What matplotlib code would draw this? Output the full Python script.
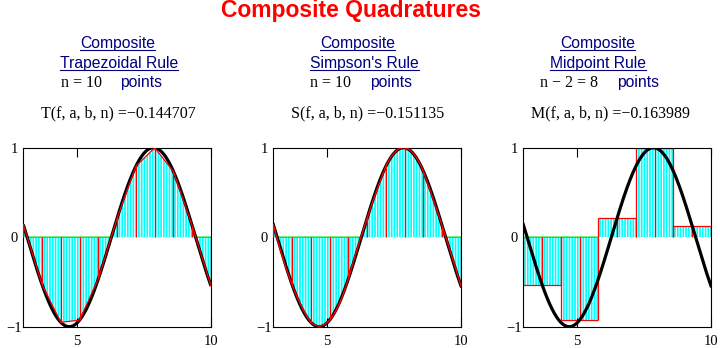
import numpy as np
import matplotlib
matplotlib.use('Agg')
import matplotlib.pyplot as plt
from matplotlib.lines import Line2D

# ---------------- data ----------------
a, b = 3.0, 10.0                      # integration limits
n_points = [10, 10, 8]                # n for trapezoid, Simpson, midpoint (n-2)
n_intervals_mid = 5                   # rectangles of the midpoint rule
rule_names = ["Trapezoidal Rule", "Simpson's Rule", "Midpoint Rule"]
point_labels = ["n = 10", "n = 10", "n \u2212 2 = 8"]
formula_names = ["T", "S", "M"]
formula_values = [-0.144707, -0.151135, -0.163989]
x_tick_values = [5, 10]
y_tick_values = [-1, 0, 1]
main_title = "Composite Quadratures"


def f(x):
    return np.sin(x)


# ---------------- style ----------------
W, H = 720, 348
NAVY = '#000080'
CYAN = '#00ffff'
RED = '#ff0000'
GREEN = '#00e000'
SANS = 'Liberation Sans'
SERIF = 'Liberation Serif'
plt.rcParams['hatch.color'] = 'white'
plt.rcParams['hatch.linewidth'] = 0.75
HATCH = '||||||'

fig = plt.figure(figsize=(W / 100, H / 100), dpi=100)
fig.patch.set_facecolor('white')

ax_left_px = [23.3, 273.3, 523.3]
ax_w_px, ax_top_px, ax_bot_px = 187.7, 147.7, 326.7

xs = np.linspace(a, b, 1401)
nodes = np.linspace(a, b, n_points[0] + 1)
fn = f(nodes)

axes = []
for i in range(3):
    ax = fig.add_axes([ax_left_px[i] / W, (H - ax_bot_px) / H,
                       ax_w_px / W, (ax_bot_px - ax_top_px) / H])
    ax.set_xlim(a, b)
    ax.set_ylim(-1, 1)
    ax.set_xticks(x_tick_values)
    ax.set_yticks(y_tick_values)
    ax.set_xticklabels([str(v) for v in x_tick_values], family=SERIF, fontsize=10.5)
    ax.set_yticklabels(['\u22121' if v < 0 else str(v) for v in y_tick_values],
                       family=SERIF, fontsize=10.5, ha='center')
    ax.tick_params(axis='x', direction='in', top=True, bottom=True, length=6.5,
                   width=0.8, pad=6, colors='black')
    ax.tick_params(axis='y', direction='in', length=0, pad=6.4)
    for s in ax.spines.values():
        s.set_linewidth(0.8)
        s.set_color('black')
    axes.append(ax)

# ---- Trapezoid ----
ax = axes[0]
approx_t = np.interp(xs, nodes, fn)
ax.fill_between(nodes, fn, 0, interpolate=True, facecolor=CYAN, edgecolor='white',
                hatch=HATCH, linewidth=0, zorder=1)
ax.plot(xs, np.where(approx_t < 0, 0.0, np.nan), color=GREEN, lw=1.0, zorder=1.5)
ax.plot(xs, f(xs), color='black', lw=2.3, zorder=2, solid_capstyle='butt')
ax.plot(nodes, fn, color=RED, lw=0.9, zorder=3)
ax.vlines(nodes, 0, fn, color=RED, lw=0.9, zorder=3)

# ---- Simpson ----
ax = axes[1]
approx_s = np.empty_like(xs)
for k in range(0, len(nodes) - 2, 2):
    xk, yk = nodes[k:k + 3], fn[k:k + 3]
    c = np.polyfit(xk, yk, 2)
    m = (xs >= xk[0]) & (xs <= xk[2])
    approx_s[m] = np.polyval(c, xs[m])
ax.fill_between(xs, approx_s, 0, interpolate=True, facecolor=CYAN, edgecolor='white',
                hatch=HATCH, linewidth=0, zorder=1)
ax.plot(xs, np.where(approx_s < 0, 0.0, np.nan), color=GREEN, lw=1.0, zorder=1.5)
ax.plot(xs, f(xs), color='black', lw=2.3, zorder=2)
ax.plot(xs, approx_s, color=RED, lw=1.0, zorder=3)
ax.vlines(nodes, 0, fn, color=RED, lw=0.9, zorder=3)

# ---- Midpoint ----
ax = axes[2]
edges = np.linspace(a, b, n_intervals_mid + 1)
mids = 0.5 * (edges[:-1] + edges[1:])
hm = f(mids)
width = edges[1] - edges[0]
ax.bar(mids, hm, width=width, facecolor=CYAN, edgecolor='white', hatch=HATCH,
       linewidth=0, zorder=1)
approx_m = hm[np.clip(np.searchsorted(edges, xs, side='right') - 1, 0, n_intervals_mid - 1)]
ax.plot(xs, np.where(approx_m < 0, 0.0, np.nan), color=GREEN, lw=1.0, zorder=1.5)
ax.hlines(hm, edges[:-1], edges[1:], color=RED, lw=0.9, zorder=2)
ax.vlines(edges[:-1], 0, hm, color=RED, lw=0.9, zorder=2)
ax.vlines(edges[1:], 0, hm, color=RED, lw=0.9, zorder=2)
ax.vlines(mids, 0, hm, color=RED, lw=0.9, zorder=2)
ax.plot(xs, f(xs), color='black', lw=2.3, zorder=3)

# ---------------- texts ----------------
def ftext(xpx, ypx, s, **kw):
    return fig.text(xpx / W, 1 - ypx / H, s, va='baseline', ha='left', **kw)

ftext(221, 17.5, main_title, family=SANS, weight='bold', fontsize=16.5, color=RED)

comp_left = [80, 320, 560]
rule_left = [60, 310, 550]
n_left = [61, 310, 540]
pts_left = [120, 370, 617]
form_left = [41, 291, 531]

underlined = []
for i in range(3):
    underlined.append(ftext(comp_left[i], 48.3, "Composite", family=SANS,
                            fontsize=11.3, color=NAVY))
    underlined.append(ftext(rule_left[i], 67.8, rule_names[i], family=SANS,
                            fontsize=11.3, color=NAVY))
    ftext(n_left[i], 87.3, point_labels[i], family=SERIF, fontsize=11.5, color='black')
    ftext(pts_left[i], 87.3, "points", family=SANS, fontsize=11.3, color=NAVY)
    ftext(form_left[i], 117.5,
          "%s(f, a, b, n) =\u2212%.6f" % (formula_names[i], abs(formula_values[i])),
          family=SERIF, fontsize=11.5, color='black')

fig.canvas.draw()
r = fig.canvas.get_renderer()
for t in underlined:
    bb = t.get_window_extent(r)
    _, yb = t.get_position()
    y = yb - 2.0 / H
    fig.add_artist(Line2D([bb.x0 / W, bb.x1 / W], [y, y], transform=fig.transFigure,
                          color=NAVY, lw=0.8))

fig.savefig('out.png', dpi=100, facecolor='white')
